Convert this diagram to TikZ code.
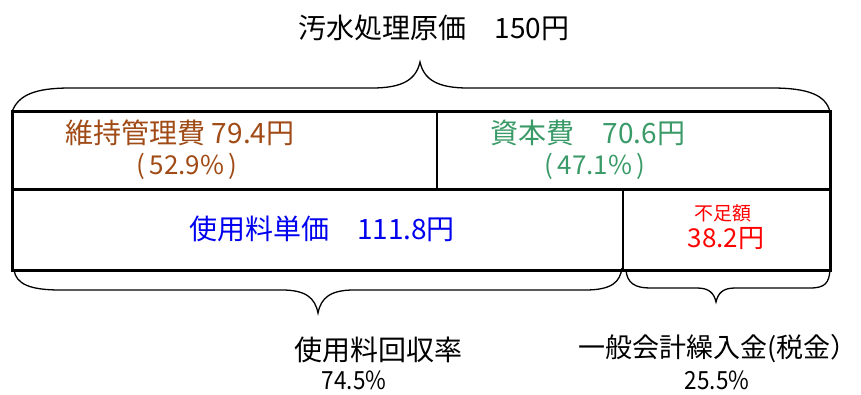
\documentclass[tikz,border=0pt]{standalone}
\usepackage{fontspec}
\setmainfont{Noto Sans CJK JP}
\definecolor{brn}{HTML}{A04A16}
\definecolor{grn}{HTML}{3A9A68}
\definecolor{blu}{HTML}{0000F0}
\definecolor{rd}{HTML}{FF0000}
\newcommand{\cond}[2][0.85]{\scalebox{#1}[1]{#2}}
\begin{document}
\begin{tikzpicture}[x=1pt,y=-1pt,
  lbl/.style={inner sep=0pt,anchor=center},
  big/.style={font=\fontsize{28}{32}\selectfont},
  box/.style={line width=3pt},
  thin/.style={line width=2pt},
  brace/.style={line width=1.3pt}]
\useasboundingbox (0,0) rectangle (861,394);
% title
\node[lbl,big] (title) at (434,28) {汚水処理原価　150円};
% box
\coordinate (tl) at (12,111);
\coordinate (br) at (830,270);
\draw[box] (tl) rectangle (br);
\draw[box] (12,189) -- (830,189);
\draw[thin] (437,111) -- (437,189);
\draw[thin] (623,189) -- (623,270);
% top brace
\draw[brace] (12,112) .. controls (18,95) and (35,88) .. (70,88) -- (372,88)
  .. controls (402,88) and (416,80) .. (420,62)
  .. controls (424,80) and (438,88) .. (468,88) -- (772,88)
  .. controls (808,88) and (826,95) .. (830,112);
% bottom left brace
\draw[brace] (14,270) .. controls (16,284) and (30,290) .. (60,290) -- (282,290)
  .. controls (306,290) and (315,298) .. (318,313)
  .. controls (321,298) and (330,290) .. (354,290) -- (585,290)
  .. controls (612,290) and (620,282) .. (622,268);
% bottom right brace
\draw[brace] (626,270) .. controls (627,283) and (635,288) .. (650,288) -- (697,288)
  .. controls (709,288) and (714,293) .. (716,302)
  .. controls (718,293) and (723,288) .. (735,288) -- (810,288)
  .. controls (825,288) and (829,283) .. (830,270);
% box texts
\node[lbl,text=brn,big] (ijihi) at (180,133) {維持管理費 79.4円};
\node[lbl,text=brn,font=\fontsize{26}{30}\selectfont] (ijipct) at (187,166) {(\,52.9\%\,)};
\node[lbl,text=grn,big] (shihon) at (588,133) {資本費　70.6円};
\node[lbl,text=grn,font=\fontsize{26}{30}\selectfont] (shipct) at (595,166) {(\,47.1\%\,)};
\node[lbl,text=blu,big] (tanka) at (322,229) {使用料単価　111.8円};
\node[lbl,text=rd,font=\fontsize{19}{22}\selectfont] (fusoku) at (723,213) {不足額};
\node[lbl,text=rd,font=\fontsize{26}{30}\selectfont] (fusokuv) at (726,239) {38.2円};
% bottom labels
\node[lbl,big] (kaishu) at (378,350) {使用料回収率};
\node[lbl,font=\fontsize{25}{28}\selectfont] (kaishup) at (354,380) {\cond[0.9]{74.5\%}};
\node[lbl,font=\fontsize{27}{30}\selectfont] (kuri) at (718,349) {一般会計繰入金(税金）};
\node[lbl,font=\fontsize{25}{28}\selectfont] (kurip) at (717,380) {\cond[0.9]{25.5\%}};
\end{tikzpicture}
\end{document}
